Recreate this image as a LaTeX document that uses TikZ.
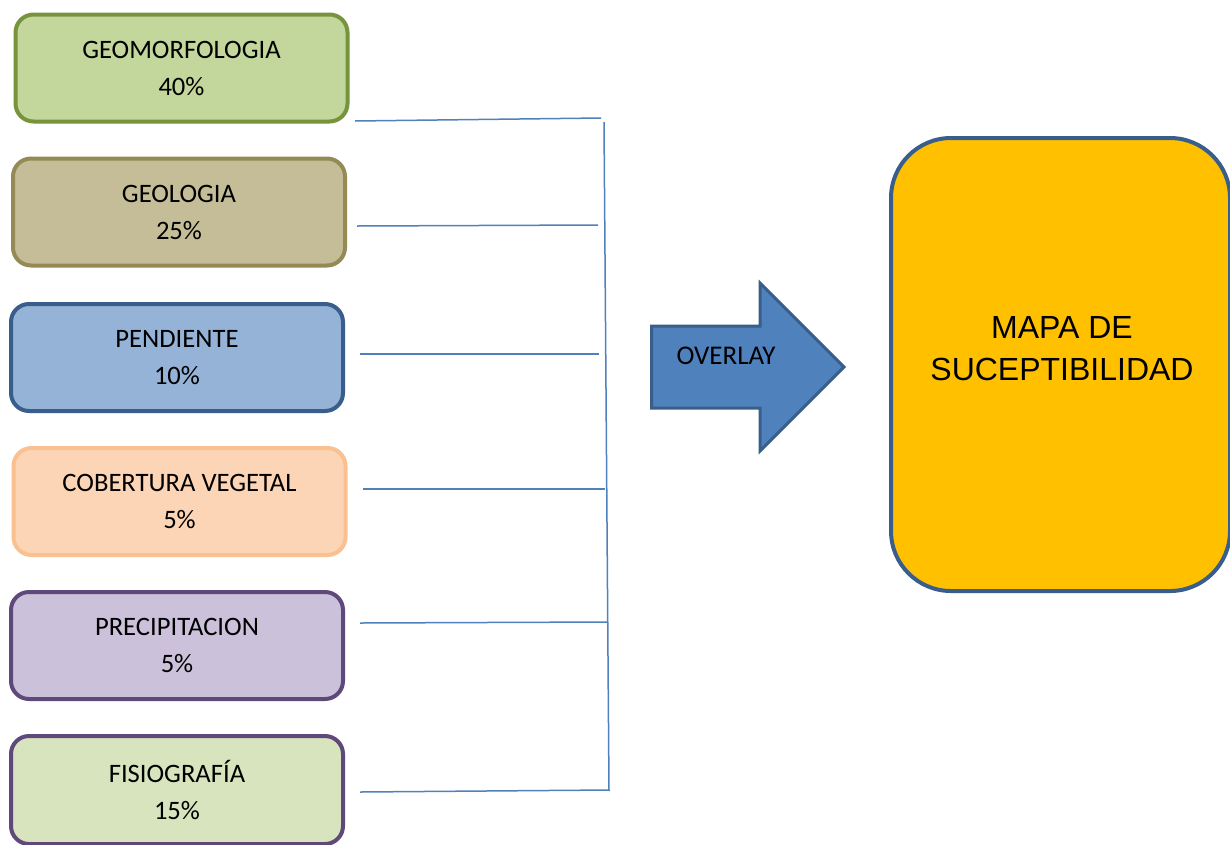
\documentclass[tikz,border=0pt]{standalone}
\usepackage{fontspec}
\setmainfont{Carlito}
\newfontfamily\arialfont{Liberation Sans}
\definecolor{grnB}{HTML}{77933C}\definecolor{grnF}{HTML}{C3D69B}
\definecolor{olvB}{HTML}{948A54}\definecolor{olvF}{HTML}{C4BD97}
\definecolor{bluB}{HTML}{3A5E8B}\definecolor{bluF}{HTML}{95B3D7}
\definecolor{orgB}{HTML}{FAC08F}\definecolor{orgF}{HTML}{FBD5B5}
\definecolor{purB}{HTML}{5F497A}\definecolor{purF}{HTML}{CCC1DA}
\definecolor{lgrF}{HTML}{D7E4BD}
\definecolor{gold}{HTML}{FFC000}
\definecolor{linkblue}{HTML}{4F81BD}
\begin{document}
\begin{tikzpicture}[x=1pt,y=-1pt,
  factor/.style={rounded corners=18pt, line width=4pt, minimum width=332pt,
    minimum height=107pt, align=center, inner sep=0pt, outer sep=0pt,
    font=\fontsize{26.6}{37}\selectfont},
  link/.style={draw=linkblue, line width=1.5pt},
  bigbox/.style={rounded corners=60pt, line width=4pt, draw=bluB, fill=gold,
    minimum width=339pt, minimum height=453pt, inner sep=0pt},
  bigtext/.style={align=center, font=\arialfont\fontsize{32}{42}\selectfont},
  arrowshape/.style={fill=linkblue, draw=bluB, line width=3pt},
  arrowtext/.style={font=\fontsize{27}{30}\selectfont}
]
\useasboundingbox[fill=white] (0,0) rectangle (1230,844);

\node[factor, draw=grnB, fill=grnF] (b1) at (181.5,68) {GEOMORFOLOGIA\\40\%};
\node[factor, draw=olvB, fill=olvF] (b2) at (179,212) {GEOLOGIA\\25\%};
\node[factor, draw=bluB, fill=bluF] (b3) at (177,357.5) {PENDIENTE\\10\%};
\node[factor, draw=orgB, fill=orgF] (b4) at (179.5,501.5) {COBERTURA VEGETAL\\5\%};
\node[factor, draw=purB, fill=purF] (b5) at (177,645.5) {PRECIPITACION\\5\%};
\node[factor, draw=purB, fill=lgrF, minimum height=108pt] (b6) at (177,790) {FISIOGRAFÍA\\15\%};

\coordinate (l1) at (355,121); \coordinate (r1) at (601,118);
\coordinate (l2) at (357,226); \coordinate (r2) at (598,225);
\coordinate (l3) at (360,354); \coordinate (r3) at (599,354);
\coordinate (l4) at (363,489); \coordinate (r4) at (605,489);
\coordinate (l5) at (360,623); \coordinate (r5) at (608,622);
\coordinate (l6) at (360,792); \coordinate (r6) at (609,790);
\coordinate (vt) at (604,122); \coordinate (vb) at (609,791);

\draw[link] (l1) -- (r1);
\draw[link] (l2) -- (r2);
\draw[link] (l3) -- (r3);
\draw[link] (l4) -- (r4);
\draw[link] (l5) -- (r5);
\draw[link] (l6) -- (r6);
\draw[link] (vt) -- (vb);

\draw[arrowshape] (651.5,326) -- (760,326) -- (760,283) -- (844,367)
  -- (760,451) -- (760,408) -- (651.5,408) -- cycle;
\node[arrowtext] (ov) at (726,356) {OVERLAY};

\node[bigbox] (map) at (1060.5,364.5) {};
\node[bigtext] (maptext) at (1062,349) {MAPA DE\\SUCEPTIBILIDAD};
\end{tikzpicture}
\end{document}
